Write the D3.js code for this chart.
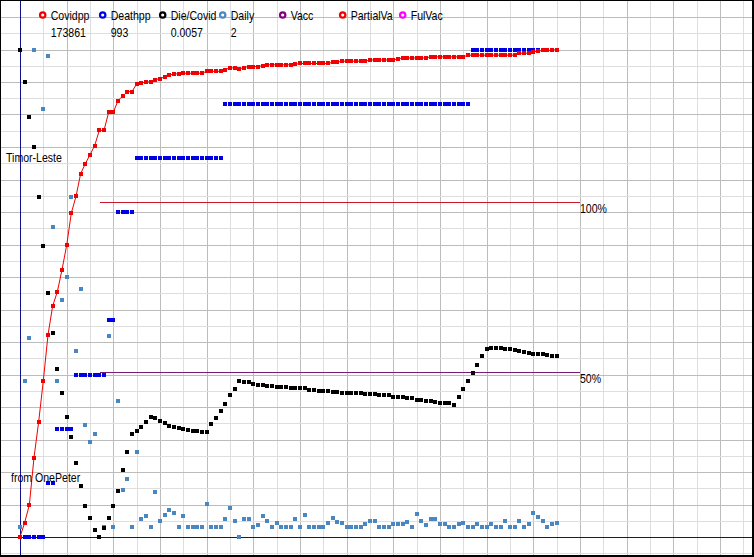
<!DOCTYPE html>
<html><head><meta charset="utf-8">
<script src="https://cdn.jsdelivr.net/npm/d3@7"></script>
<style>
html,body{margin:0;padding:0;background:#fff;}
svg{display:block;}
text{font-family:"Liberation Sans",Arial,sans-serif;font-size:12px;fill:#000;}
</style></head><body>
<svg id="chart" width="754" height="557"></svg>
<script>
// ---- data (week index 0..115, values in chart grid units, each series later scaled to its own max) ----
const covidpp = [0,0.88,1.97,4.88,7.08,9.62,12.43,14.2,15.08,16.43,
17.93,19.92,20.94,22.34,22.95,23.5,24.06,25.0,25.0,26.11,
26.11,26.83,27.1,27.38,27.38,27.86,27.92,27.98,27.98,28.12,
28.18,28.29,28.39,28.47,28.47,28.51,28.51,28.51,28.51,28.51,
28.63,28.63,28.63,28.63,28.74,28.84,28.84,28.78,28.86,28.92,
28.92,28.92,28.98,29.03,29.03,29.03,29.03,29.03,29.03,29.06,
29.11,29.11,29.11,29.11,29.11,29.11,29.11,29.19,29.19,29.25,
29.25,29.25,29.25,29.25,29.25,29.33,29.33,29.33,29.33,29.33,
29.33,29.4,29.45,29.45,29.45,29.45,29.45,29.45,29.52,29.52,
29.52,29.52,29.52,29.52,29.52,29.52,29.62,29.62,29.62,29.62,
29.62,29.62,29.62,29.62,29.62,29.62,29.62,29.74,29.74,29.74,
29.83,29.87,29.92,29.92,29.92,29.97];

const deathpp = [0,0,0,0,0,0,1,1,2,2,
2,2,3,3,3,3,3,3,3,4,
4,6,6,6,6,7,7,7,7,7,
7,7,7,7,7,7,7,7,7,7,
7,7,7,7,8,8,8,8,8,8,
8,8,8,8,8,8,8,8,8,8,
8,8,8,8,8,8,8,8,8,8,
8,8,8,8,8,8,8,8,8,8,
8,8,8,8,8,8,8,8,8,8,
8,8,8,8,8,8,8,9,9,9,
9,9,9,9,9,9,9,9,9,9,
9,9,9,9,9,9];

const dieCovid = [29.97,27.96,25.8,24.0,20.92,17.86,14.97,12.57,10.3,8.88,
7.4,6.17,4.57,3.16,1.91,1.19,0.45,0.02,0.57,1.19,
1.91,2.85,4.12,5.25,6.31,6.52,6.79,7.1,7.4,7.29,
7.15,7.02,6.84,6.75,6.69,6.63,6.55,6.52,6.52,6.48,
6.48,6.92,7.34,7.77,8.2,8.7,9.11,9.56,9.5,9.5,
9.43,9.37,9.37,9.31,9.31,9.25,9.25,9.25,9.19,9.19,
9.13,9.13,9.06,9.06,9.0,9.0,8.98,8.94,8.9,8.88,
8.84,8.84,8.84,8.84,8.78,8.78,8.78,8.7,8.7,8.7,
8.63,8.63,8.63,8.57,8.54,8.45,8.45,8.39,8.35,8.29,
8.26,8.23,8.23,8.12,8.63,9.11,9.62,10.11,10.6,11.1,
11.57,11.59,11.59,11.59,11.53,11.53,11.51,11.45,11.38,11.32,
11.28,11.26,11.22,11.16,11.14,11.1];

const daily = [0.63,9.56,12.26,29.97,0,26.34,29.56,19.08,9.56,14.54,
15.96,20.88,11.46,15.26,6.91,5.86,6.36,0,0.63,12.37,
0.63,8.39,2.91,3.59,0.63,5.25,1.13,1.29,0.63,2.79,
1.0,1.37,1.68,1.5,0.63,1.29,0.63,0.63,0.63,0.63,
2.05,0.63,0.63,0.63,1.13,1.8,1.0,0,1.13,1.13,
0.63,0.76,1.29,1.0,0.63,0.88,0.63,0.63,0.63,1.13,
0.63,1.37,0.63,0.63,0.63,0.63,0.88,1.15,0.94,0.88,
0.63,0.63,0.63,0.63,0.78,1.0,1.0,0.63,0.63,0.63,
0.78,0.78,0.78,0.9,0.63,1.4,1.0,0.74,1.13,1.13,
0.78,0.78,0.63,0.63,0.78,0.88,0.63,0.63,0.78,0.63,
0.63,0.78,0.63,0.63,1.0,0.63,0.63,1.0,0.63,0.78,
1.5,1.25,1.0,0.63,0.78,0.88];

const legendNames  = ["Covidpp","Deathpp","Die/Covid","Daily","Vacc","PartialVa","FulVac"];
const legendValues = ["173861","993","0.0057","2","","",""];
const legendColors = ["#f00000","#0000e6","#000000","#4a86c0","#800080","#f00000","#ff00ff"];
const vaccLabels = ["100%","50%"];
const vaccLevels = [20.6, 10.13];   // in grid units
const vaccColors = ["#c41a2a","#7a1a78"];
const country = "Timor-Leste";
const credit = "from OnePeter";

// ---- layout ----
const W = 754, H = 557;
const svg = d3.select("#chart");
const x = d3.scaleLinear().domain([0, 115]).range([20, 20 + 4.66667*115]);
const y = d3.scaleLinear().domain([0, 30]).range([537, 49.5]);
const norm = arr => { const m = d3.max(arr); return arr.map(v => v / m * 30); };

svg.append("rect").attr("width", W).attr("height", H).attr("fill", "#fff");

// grid
const g = svg.append("g").attr("shape-rendering","crispEdges");
const vTicks = d3.range(5, 160, 5);
g.selectAll("line.v").data(vTicks).join("line")
  .attr("x1", d => Math.round(x(d)) + 0.5).attr("x2", d => Math.round(x(d)) + 0.5)
  .attr("y1", 0).attr("y2", H)
  .attr("stroke", d => d % 10 === 0 ? "#bcbcbc" : "#dedede").attr("stroke-width", 1);
const hTicks = d3.range(-1, 33, 1);
g.selectAll("line.h").data(hTicks).join("line")
  .attr("y1", d => Math.round(y(d)) + 0.5).attr("y2", d => Math.round(y(d)) + 0.5)
  .attr("x1", 0).attr("x2", W)
  .attr("stroke", d => d % 2 === 0 ? "#bcbcbc" : "#dedede").attr("stroke-width", 1);

// axes (blue)
g.append("line").attr("x1", 0).attr("x2", W).attr("y1", Math.round(y(0)) + 0.5).attr("y2", Math.round(y(0)) + 0.5)
  .attr("stroke", "#10108a").attr("stroke-width", 1);
g.append("line").attr("x1", Math.round(x(0)) + 0.5).attr("x2", Math.round(x(0)) + 0.5).attr("y1", 0).attr("y2", H)
  .attr("stroke", "#10108a").attr("stroke-width", 1);

// vaccination reference lines
const refStart = 17.14, refEnd = 120;
vaccLevels.forEach((lv, i) => {
  g.append("line").attr("x1", x(refStart)).attr("x2", x(refEnd))
    .attr("y1", Math.round(y(lv)) + 0.5).attr("y2", Math.round(y(lv)) + 0.5)
    .attr("stroke", vaccColors[i]).attr("stroke-width", 1);
  svg.append("text").attr("transform", `translate(${x(refEnd)},${y(lv) + 11}) scale(0.88,1)`).text(vaccLabels[i]);
});

// series
function markers(vals, color) {
  const nv = norm(vals);
  svg.append("g").attr("shape-rendering","crispEdges").selectAll("rect").data(nv).join("rect")
    .attr("x", (d, i) => Math.round(x(i)) - 2).attr("y", d => Math.round(y(d)) - 2)
    .attr("width", 4).attr("height", 4).attr("fill", color);
}
markers(daily, legendColors[3]);
markers(dieCovid, legendColors[2]);
markers(deathpp, legendColors[1]);
const cnorm = norm(covidpp);
svg.append("path").datum(cnorm)
  .attr("d", d3.line().x((d, i) => x(i)).y(d => y(d)))
  .attr("fill", "none").attr("stroke", legendColors[0]).attr("stroke-width", 1);
markers(covidpp, legendColors[0]);

// legend
const lg = svg.append("g");
legendNames.forEach((n, j) => {
  const cx = 42.7 + 60 * j;
  lg.append("circle").attr("cx", cx).attr("cy", 15).attr("r", 2.7)
    .attr("fill", "#fff").attr("stroke", legendColors[j]).attr("stroke-width", 2.2);
  lg.append("text").attr("transform", `translate(${cx + 8},19.5) scale(0.88,1)`).text(n);
  if (legendValues[j]) lg.append("text").attr("transform", `translate(${cx + 8},37) scale(0.88,1)`).text(legendValues[j]);
});

// labels
svg.append("text").attr("transform", "translate(6,162) scale(0.88,1)").text(country);
svg.append("text").attr("transform", "translate(11,482) scale(0.88,1)").text(credit);

// frame
svg.append("rect").attr("x", 0).attr("y", 0).attr("width", 1).attr("height", H).attr("fill", "#000");
svg.append("rect").attr("x", 0).attr("y", 0).attr("width", W).attr("height", 1).attr("fill", "#000");
svg.append("rect").attr("x", W - 2).attr("y", 0).attr("width", 2).attr("height", H).attr("fill", "#000");
svg.append("rect").attr("x", 0).attr("y", H - 2).attr("width", W).attr("height", 2).attr("fill", "#000");
</script></body></html>
